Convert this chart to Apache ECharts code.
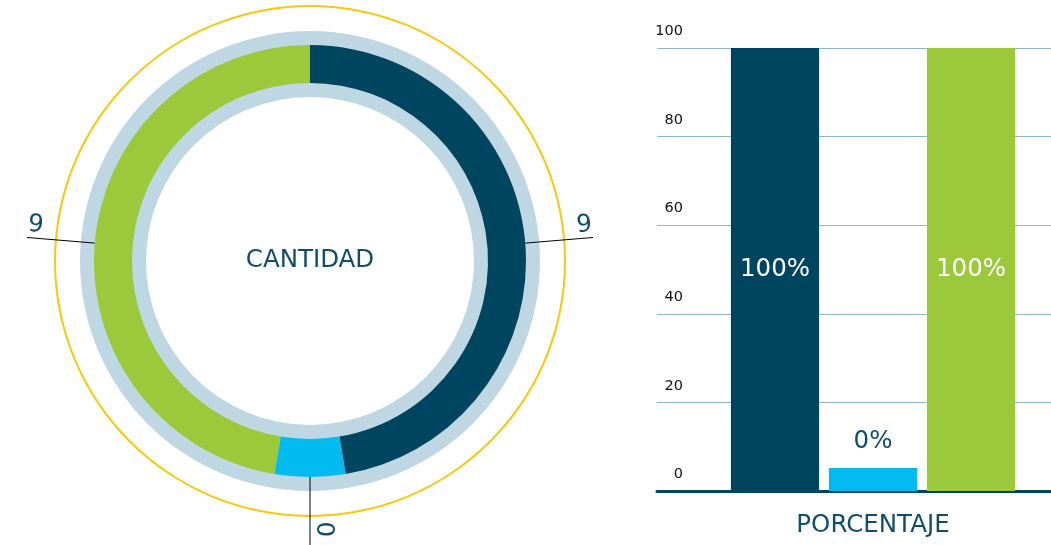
<!DOCTYPE html>
<html>
<head>
<meta charset="utf-8">
<script src="https://cdn.jsdelivr.net/npm/echarts@6/dist/echarts.min.js"></script>
<style>
  html, body { margin: 0; padding: 0; background: #fff; }
  #chart { width: 1051px; height: 545px; }
</style>
</head>
<body>
<div id="chart"></div>
<script>
// datos
var categorias = ['Realizado', 'Pendiente', 'Total'];
var cantidades = [9, 0, 9];
var porcentajes = [100, 0, 100];
var colores = ['#00455f', '#00baf0', '#9bc93b'];

var textoColor = '#0f4d6a';
var fuente = 'DejaVu Sans';

var chart = echarts.init(document.getElementById('chart'));

var pieData = categorias.map(function (c, i) {
  var d = { name: c, value: cantidades[i], itemStyle: { color: colores[i] } };
  if (cantidades[i] === 0) {
    // la etiqueta del sector minimo queda algo antes del final de la linea
    d.label = { padding: [0, 8, 0, 0] };
  }
  return d;
});

var barData = categorias.map(function (c, i) {
  var d = { value: porcentajes[i], itemStyle: { color: colores[i] } };
  if (porcentajes[i] === 0) {
    d.label = { position: 'top', color: textoColor, distance: 14 };
  }
  return d;
});

chart.setOption({
  animation: false,
  title: {
    text: 'CANTIDAD',
    left: 310,
    top: 261,
    padding: 0,
    textAlign: 'center',
    textVerticalAlign: 'middle',
    textStyle: { color: textoColor, fontSize: 24.5, fontWeight: 'normal', fontFamily: fuente }
  },
  grid: [
    { left: 657, right: 0, top: 48, bottom: 54, outerBoundsMode: 'none' },
    { left: 726, width: 294, top: 48, bottom: 54, outerBoundsMode: 'none' }
  ],
  xAxis: [
    {
      gridIndex: 0, type: 'category', data: [''],
      axisLine: { lineStyle: { color: '#00455f', width: 3 } },
      axisTick: { show: false }, axisLabel: { show: false }
    },
    {
      gridIndex: 1, type: 'category', data: categorias,
      axisLine: { show: false }, axisTick: { show: false }, axisLabel: { show: false },
      name: 'PORCENTAJE', nameLocation: 'middle', nameGap: 22,
      nameTextStyle: { color: textoColor, fontSize: 24.5, fontFamily: fuente }
    }
  ],
  yAxis: [
    {
      gridIndex: 0, type: 'value', min: 0, max: 100, interval: 20,
      axisLine: { show: false }, axisTick: { show: false },
      splitLine: { lineStyle: { color: '#8db6ca', width: 1 } },
      axisLabel: {
        color: '#111', fontSize: 14.5, fontFamily: fuente,
        align: 'right', verticalAlign: 'bottom', margin: -26,
        padding: [0, 0, 9, 0]
      }
    },
    { gridIndex: 1, type: 'value', min: 0, max: 100, show: false }
  ],
  series: [
    {
      type: 'pie', silent: true, z: 1, center: [310, 261], radius: [254, 256],
      label: { show: false }, labelLine: { show: false },
      itemStyle: { color: '#fac70f' },
      data: [1]
    },
    {
      type: 'pie', silent: true, z: 1, center: [310, 261], radius: [164, 230],
      label: { show: false }, labelLine: { show: false },
      itemStyle: { color: '#bfd7e3' },
      data: [1]
    },
    {
      type: 'pie', z: 3, center: [310, 261], radius: [178, 216],
      startAngle: 90, clockwise: true, minAngle: 19,
      data: pieData,
      label: {
        show: true, position: 'outside', rotate: 'radial',
        distanceToLabelLine: 0, lineHeight: 26,
        formatter: '{c}', color: textoColor, fontSize: 24.5, fontFamily: fuente
      },
      labelLine: { show: true, length: 68, length2: 0, lineStyle: { color: '#000', width: 1 } },
      // texto hacia dentro de la linea y por encima de ella
      labelLayout: function (p) {
        return { align: p.align === 'left' ? 'right' : 'left', verticalAlign: 'bottom' };
      }
    },
    {
      type: 'bar', xAxisIndex: 1, yAxisIndex: 1,
      barCategoryGap: '10%', barMinHeight: 23,
      data: barData,
      label: {
        show: true, position: 'inside', formatter: '{c}%',
        color: '#fff', fontSize: 24.5, fontFamily: fuente
      }
    }
  ]
});
</script>
</body>
</html>
